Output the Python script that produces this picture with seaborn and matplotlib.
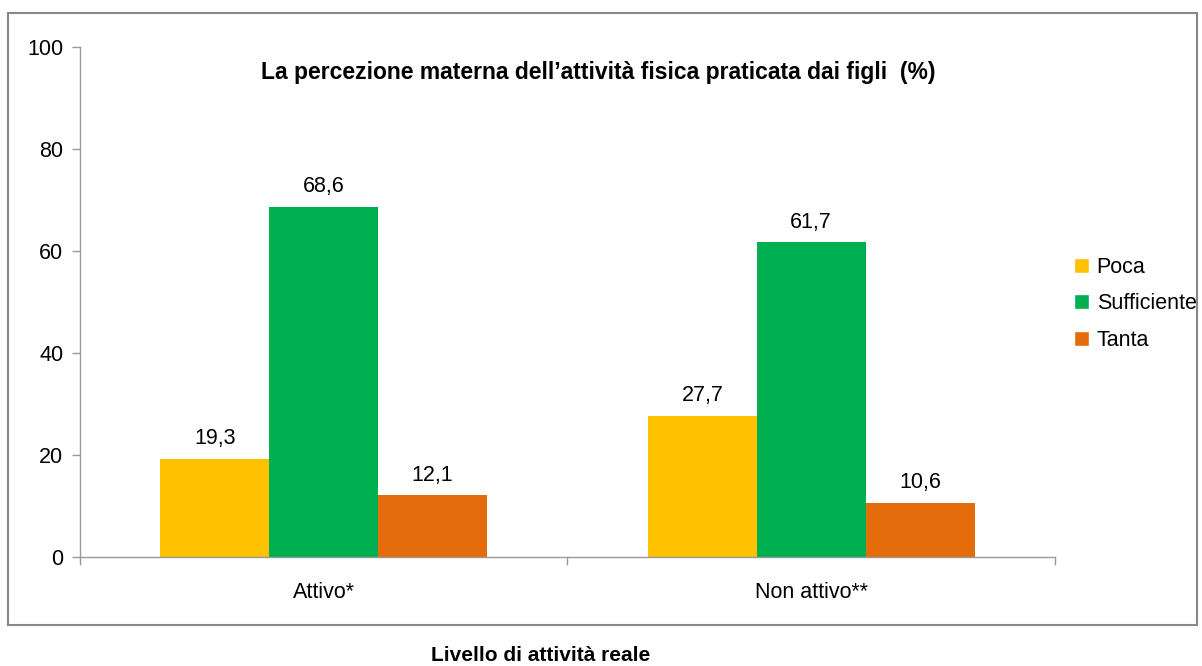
import pandas as pd
import seaborn as sns
import matplotlib.pyplot as plt
from matplotlib.patches import Rectangle, Patch

# Data
categories = ['Attivo*', 'Non attivo**']
levels = ['Poca', 'Sufficiente', 'Tanta']
poca = [19.3, 27.7]
sufficiente = [68.6, 61.7]
tanta = [12.1, 10.6]
colors = ['#FFC000', '#00B050', '#E46C0A']

df = pd.DataFrame({
    'livello': categories * 3,
    'percezione': [l for l in levels for _ in categories],
    'valore': poca + sufficiente + tanta,
})

sns.set_style('white')
plt.rcParams['font.family'] = ['Liberation Sans', 'DejaVu Sans']
plt.rcParams['text.color'] = 'black'
plt.rcParams['xtick.labelcolor'] = 'black'
plt.rcParams['ytick.labelcolor'] = 'black'

fs = 15.5

fig = plt.figure(figsize=(12.02, 6.66), dpi=100)
ax = fig.add_axes([80 / 1202, 109 / 666, 975 / 1202, 510 / 666])

sns.barplot(data=df, x='livello', y='valore', hue='percezione', hue_order=levels,
            palette=colors, width=0.67, saturation=1, ax=ax, legend=False,
            edgecolor='none', linewidth=0)

for cont in ax.containers:
    ax.bar_label(cont, labels=[f'{v:.1f}'.replace('.', ',') for v in cont.datavalues],
                 padding=7, fontsize=fs, color='black')

ax.set_ylim(0, 100)
ax.set_xlim(-0.5, 1.5)
ax.set_yticks([0, 20, 40, 60, 80, 100])
ax.set_xlabel('')
ax.set_ylabel('')
ax.tick_params(axis='y', left=True, length=6, width=1, color='#999999', pad=6, labelsize=fs)
ax.tick_params(axis='x', which='major', length=0, pad=18, labelsize=fs)
ax.set_xticks([-0.5, 0.5, 1.5], minor=True)
ax.tick_params(axis='x', which='minor', bottom=True, length=6, width=1, color='#999999')
for s in ['top', 'right']:
    ax.spines[s].set_visible(False)
for s in ['left', 'bottom']:
    ax.spines[s].set_color('#999999')
    ax.spines[s].set_linewidth(1)

fig.text(598 / 1202, 1 - 72 / 666, 'La percezione materna dell\u2019attività fisica praticata dai figli  (%)',
         ha='center', va='center', fontsize=16.5, fontweight='bold')
fig.text(541 / 1202, 1 - 661 / 666, 'Livello di attività reale',
         ha='center', va='baseline', fontsize=15, fontweight='bold')

handles = [Patch(facecolor=c, label=l) for c, l in zip(colors, levels)]
fig.legend(handles=handles, loc='center left', bbox_to_anchor=(1074 / 1202, 1 - 304 / 666),
           frameon=False, fontsize=fs, handlelength=0.7, handleheight=0.7,
           handletextpad=0.35, labelspacing=0.72, borderpad=0, borderaxespad=0)

fig.patches.append(Rectangle((8 / 1202, 41 / 666), 1189 / 1202, 612 / 666,
                             transform=fig.transFigure, fill=False,
                             edgecolor='#888888', linewidth=1.5))

fig.savefig('out.png', dpi=100)
